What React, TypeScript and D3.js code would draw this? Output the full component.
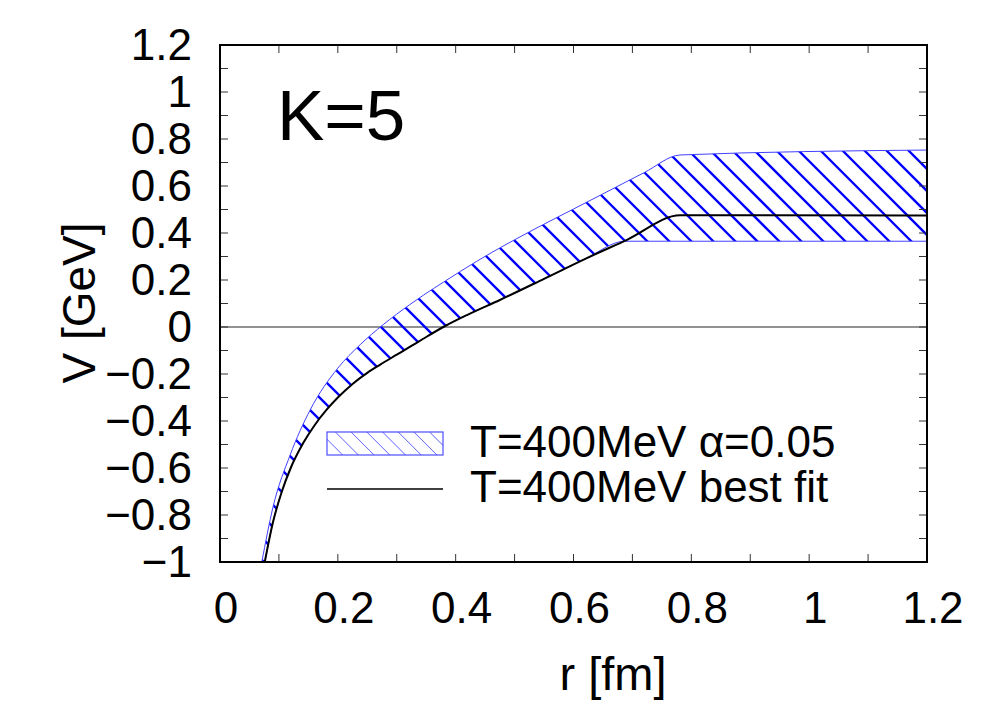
import React from 'react';
import * as d3 from 'd3';

// best fit potential, T=400MeV
const bestR = [0.076, 0.09, 0.105, 0.12, 0.141, 0.16, 0.181, 0.2, 0.226, 0.25, 0.272, 0.3, 0.322, 0.345, 0.379, 0.42, 0.475, 0.55, 0.62, 0.69, 0.781, 1.2];
const bestV = [-1.0, -0.83, -0.70, -0.60, -0.495, -0.42, -0.352, -0.3, -0.24, -0.195, -0.16, -0.118, -0.085, -0.05, 0.0, 0.052, 0.115, 0.205, 0.29, 0.37, 0.475, 0.475];

// alpha=0.05 band, upper edge
const upperR = [0.071, 0.09, 0.119, 0.153, 0.2, 0.238, 0.277, 0.322, 0.345, 0.38, 0.436, 0.538, 0.6, 0.662, 0.72, 0.781, 1.2];
const upperV = [-1.0, -0.766, -0.545, -0.353, -0.175, -0.075, 0.01, 0.095, 0.135, 0.192, 0.28, 0.422, 0.502, 0.582, 0.657, 0.732, 0.753];

// lower edge: follows the best fit, then flat
const lowerR = [0.076, 0.09, 0.105, 0.12, 0.141, 0.16, 0.181, 0.2, 0.226, 0.25, 0.272, 0.3, 0.322, 0.345, 0.379, 0.42, 0.475, 0.55, 0.62, 0.687, 0.781, 1.2];
const lowerV = [-1.0, -0.83, -0.70, -0.60, -0.495, -0.42, -0.352, -0.3, -0.24, -0.195, -0.16, -0.118, -0.085, -0.05, 0.0, 0.052, 0.115, 0.205, 0.29, 0.365, 0.365, 0.365];

const xTickValues = [0, 0.2, 0.4, 0.6, 0.8, 1, 1.2];
const yTickValues = [-1, -0.8, -0.6, -0.4, -0.2, 0, 0.2, 0.4, 0.6, 0.8, 1, 1.2];
const legendLabels = ['T=400MeV \u03b1=0.05', 'T=400MeV best fit'];

const W = 1008;
const H = 706;
const left = 220, right = 927, top = 45, bottom = 562;
const font = '"Liberation Sans", Arial, Helvetica, sans-serif';

// 45 degree "\" hatch lines, spaced along x, for a box region
const hatchLines = (x0: number, x1: number, y0: number, y1: number, step: number) => {
    const h = y1 - y0;
    return d3.range(x0 - h, x1 + step, step).map(s => ({ x1: s, y1: y0, x2: s + h, y2: y1 }));
};

const App = () => {
    const x = d3.scaleLinear().domain([0, 1.2]).range([left, right]);
    const y = d3.scaleLinear().domain([-1, 1.2]).range([bottom, top]);

    const line = d3.line<[number, number]>()
        .x(d => x(d[0]))
        .y(d => y(d[1]))
        .curve(d3.curveMonotoneX);

    const best: [number, number][] = bestR.map((r, i) => [r, bestV[i]]);
    const upper: [number, number][] = upperR.map((r, i) => [r, upperV[i]]);
    const lower: [number, number][] = lowerR.map((r, i) => [r, lowerV[i]]).reverse() as [number, number][];

    const bandPath = (line(upper) || '') + (line(lower) || '').replace(/^M/, 'L') + 'Z';

    const minorX = d3.range(0, 1.2001, 0.1);
    const minorY = d3.range(-1, 1.2001, 0.1);
    const fmt = (v: number) => d3.format('~g')(+v.toFixed(2)).replace('-', '\u2212');

    const bandHatch = hatchLines(left, right, top, bottom, 22);
    const legHatch = hatchLines(327, 443, 432, 455, 15.7);

    return (
        <svg width={W} height={H} style={{ position: 'absolute', left: 0, top: 0, background: '#fff' }}>
            <defs>
                <clipPath id="plotArea">
                    <rect x={left} y={top} width={right - left} height={bottom - top} />
                </clipPath>
                <clipPath id="bandClip">
                    <path d={bandPath} />
                </clipPath>
                <clipPath id="legClip">
                    <rect x={327} y={432} width={116} height={23} />
                </clipPath>
            </defs>
            <rect x={0} y={0} width={W} height={H} fill="#fff" />

            {/* zero line */}
            <line x1={left} x2={right} y1={y(0)} y2={y(0)} stroke="#6e6e6e" strokeWidth={1.3} />

            <g clipPath="url(#plotArea)">
                <g clipPath="url(#bandClip)">
                    {bandHatch.map((l, i) => (
                        <line key={'h' + i} {...l} stroke="#0000ff" strokeWidth={2.3} />
                    ))}
                </g>
                <path d={bandPath} fill="none" stroke="#4040ff" strokeWidth={1} />
                <path d={line(best) || ''} fill="none" stroke="#000" strokeWidth={2} />
            </g>

            {/* ticks on all four sides */}
            {minorX.map((v, i) => (
                <g key={'xt' + i} stroke="#333" strokeWidth={1}>
                    <line x1={x(v)} x2={x(v)} y1={bottom} y2={bottom - 8} />
                    <line x1={x(v)} x2={x(v)} y1={top} y2={top + 8} />
                </g>
            ))}
            {minorY.map((v, i) => (
                <g key={'yt' + i} stroke="#333" strokeWidth={1}>
                    <line x1={left} x2={left + 8} y1={y(v)} y2={y(v)} />
                    <line x1={right} x2={right - 8} y1={y(v)} y2={y(v)} />
                </g>
            ))}

            <rect x={left} y={top} width={right - left} height={bottom - top} fill="none" stroke="#000" strokeWidth={2} />

            {xTickValues.map((v, i) => (
                <text key={'xl' + i} x={x(v) + 6} y={623} textAnchor="middle" fontFamily={font} fontSize={44}>{fmt(v)}</text>
            ))}
            {yTickValues.map((v, i) => (
                <text key={'yl' + i} x={192} y={y(v) + 15} textAnchor="end" fontFamily={font} fontSize={44}>{fmt(v)}</text>
            ))}

            <text x={613} y={690} textAnchor="middle" fontFamily={font} fontSize={47}>r [fm]</text>
            <text transform="translate(95,303) rotate(-90)" textAnchor="middle" fontFamily={font} fontSize={46}>V [GeV]</text>

            <text x={277} y={140} fontFamily={font} fontSize={71}>K=5</text>

            {/* legend */}
            <g clipPath="url(#legClip)">
                {legHatch.map((l, i) => (
                    <line key={'lh' + i} {...l} stroke="#6060ff" strokeWidth={1} />
                ))}
            </g>
            <rect x={327} y={432} width={116} height={23} fill="none" stroke="#4d4dff" strokeWidth={1.2} />
            <text x={470} y={457} fontFamily={font} fontSize={44}>{legendLabels[0]}</text>
            <line x1={327} x2={443} y1={489} y2={489} stroke="#000" strokeWidth={1.6} />
            <text x={470} y={502} fontFamily={font} fontSize={44}>{legendLabels[1]}</text>
        </svg>
    );
};

export default App;
